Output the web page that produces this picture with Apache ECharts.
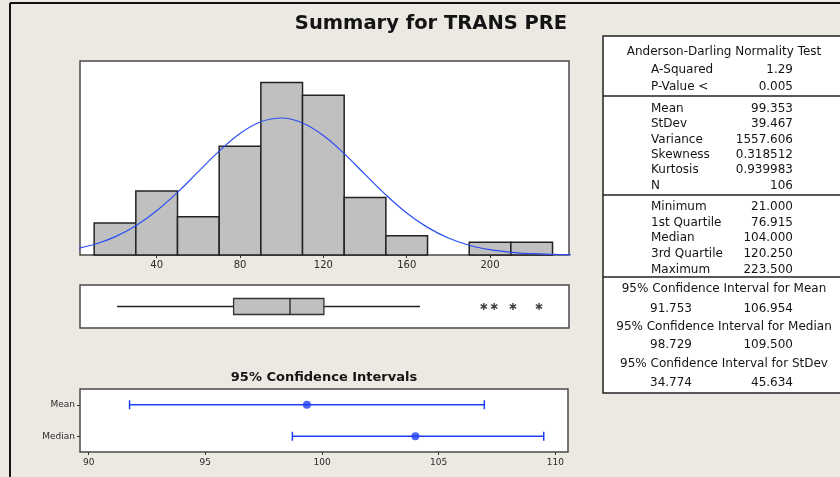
<!DOCTYPE html>
<html lang="en">
<head>
  <meta charset="utf-8" />
  <title>Summary for TRANS PRE</title>
  <script type="text/javascript" src="https://fastly.jsdelivr.net/npm/echarts@6/dist/echarts.min.js"></script>
  <style>
    html, body { margin: 0; padding: 0; background: #ECE9E2; }
    #container { width: 840px; height: 477px; }
  </style>
</head>
<body>
  <div id="container"></div>
  <script type="text/javascript">
    // histogram: bin edges and counts
    var binEdges = [10, 30, 50, 70, 90, 110, 130, 150, 170, 190, 210, 230];
    var binCounts = [5, 10, 6, 17, 27, 25, 9, 3, 0, 2, 2];
    var histTicks = [40, 80, 120, 160, 200];

    // fitted normal curve (in count units)
    var curveX = [0, 10, 20, 30, 40, 50, 60, 70, 80, 90, 100, 110, 120,
                  130, 140, 150, 160, 170, 180, 190, 200, 210, 220, 230, 240];
    var curveY = [0.9, 1.65, 2.84, 4.58, 6.92, 9.8, 13.04, 16.25, 19.01, 20.84, 21.43, 20.66, 18.69,
                  15.85, 12.61, 9.41, 6.58, 4.32, 2.66, 1.53, 0.83, 0.42, 0.2, 0.09, 0.04];

    // boxplot: lower whisker, Q1, median, Q3, upper whisker
    var boxStats = [21.0, 76.915, 104.0, 120.25, 166.4];
    var outliers = [197, 202, 211, 223.5];

    // 95% confidence intervals
    var ciNames = ['Mean', 'Median'];
    var ciLow = [91.753, 98.729];
    var ciHigh = [106.954, 109.5];
    var ciEst = [99.353, 104.0];
    var ciTicks = [90, 95, 100, 105, 110];

    // summary table
    var adLabels = ['A-Squared', 'P-Value <'];
    var adValues = ['1.29', '0.005'];
    var momentLabels = ['Mean', 'StDev', 'Variance', 'Skewness', 'Kurtosis', 'N'];
    var momentValues = ['99.353', '39.467', '1557.606', '0.318512', '0.939983', '106'];
    var quantLabels = ['Minimum', '1st Quartile', 'Median', '3rd Quartile', 'Maximum'];
    var quantValues = ['21.000', '76.915', '104.000', '120.250', '223.500'];
    var ciTableTitles = ['95% Confidence Interval for Mean',
                         '95% Confidence Interval for Median',
                         '95% Confidence Interval for StDev'];
    var ciTableLow = ['91.753', '98.729', '34.774'];
    var ciTableHigh = ['106.954', '109.500', '45.634'];

    var FONT = 'DejaVu Sans';
    var BLUE = '#1F3FF5';
    var INK = '#141414';

    var dom = document.getElementById('container');
    var myChart = echarts.init(dom, null, { renderer: 'canvas' });

    // --- graphic: frame, titles, table ---
    var g = [];
    g.push({ type: 'line', shape: { x1: 10, y1: 3, x2: 840, y2: 3 }, style: { stroke: '#111', lineWidth: 2 } });
    g.push({ type: 'line', shape: { x1: 10, y1: 3, x2: 10, y2: 477 }, style: { stroke: '#111', lineWidth: 2 } });
    g.push({ type: 'text', x: 431, y: 24, style: { text: 'Summary for TRANS PRE', font: 'bold 19.5px ' + FONT,
      fill: INK, textAlign: 'center', textVerticalAlign: 'middle' } });
    g.push({ type: 'text', x: 324, y: 378, style: { text: '95% Confidence Intervals', font: 'bold 13px ' + FONT,
      fill: INK, textAlign: 'center', textVerticalAlign: 'middle' } });

    g.push({ type: 'rect', shape: { x: 603, y: 36, width: 260, height: 357 },
      style: { fill: '#fff', stroke: '#222', lineWidth: 1.5 } });
    [96, 195, 277].forEach(function (y) {
      g.push({ type: 'line', shape: { x1: 603, y1: y, x2: 840, y2: y }, style: { stroke: '#222', lineWidth: 1.5 } });
    });

    function txt(s, x, y, align) {
      g.push({ type: 'text', x: x, y: y, z: 10, style: { text: s, font: '12px ' + FONT, fill: INK,
        textAlign: align, textVerticalAlign: 'middle' } });
    }
    var LX = 651, RX = 793, CX = 724;
    txt('Anderson-Darling Normality Test', CX, 52, 'center');
    var adY = [70, 86.5];
    adLabels.forEach(function (s, i) { txt(s, LX, adY[i], 'left'); txt(adValues[i], RX, adY[i], 'right'); });
    var moY = [109, 124.3, 139.6, 155, 170.3, 185.7];
    momentLabels.forEach(function (s, i) { txt(s, LX, moY[i], 'left'); txt(momentValues[i], RX, moY[i], 'right'); });
    var quY = [206.5, 222.5, 238.2, 254, 269.5];
    quantLabels.forEach(function (s, i) { txt(s, LX, quY[i], 'left'); txt(quantValues[i], RX, quY[i], 'right'); });
    var ctY = [288.5, 326.7, 363.5];
    var cvY = [309, 345, 382.5];
    ciTableTitles.forEach(function (s, i) {
      txt(s, CX, ctY[i], 'center');
      txt(ciTableLow[i], LX - 1, cvY[i], 'left');
      txt(ciTableHigh[i], RX, cvY[i], 'right');
    });

    var gridStyle = { show: true, backgroundColor: '#fff', borderColor: '#4a4a4a', borderWidth: 1.5 };
    var histMin = 3.2, histMax = 237.9;

    option = {
      backgroundColor: '#ECE9E2',
      animation: false,
      graphic: { elements: g },
      grid: [
        Object.assign({ left: 80, top: 61, width: 489, height: 194 }, gridStyle),
        Object.assign({ left: 80, top: 285, width: 489, height: 43 }, gridStyle),
        Object.assign({ left: 80, top: 389, width: 488, height: 63 }, gridStyle)
      ],
      xAxis: [
        {
          gridIndex: 0, type: 'value', min: histMin, max: histMax,
          axisLine: { show: false }, splitLine: { show: false },
          axisTick: { show: true, length: 3, customValues: histTicks, lineStyle: { color: '#333' } },
          axisLabel: { customValues: histTicks, fontSize: 10, color: '#2a2a2a', margin: 5, fontFamily: FONT }
        },
        {
          gridIndex: 1, type: 'value', min: histMin, max: histMax,
          axisLine: { show: false }, splitLine: { show: false },
          axisTick: { show: false }, axisLabel: { show: false }
        },
        {
          gridIndex: 2, type: 'value', min: 89.63, max: 110.54,
          axisLine: { show: false }, splitLine: { show: false },
          axisTick: { show: true, length: 3, customValues: ciTicks, lineStyle: { color: '#333' } },
          axisLabel: { customValues: ciTicks, fontSize: 9, color: '#2a2a2a', margin: 6, fontFamily: FONT }
        }
      ],
      yAxis: [
        { gridIndex: 0, type: 'value', min: 0, max: 30.35, show: false },
        { gridIndex: 1, type: 'value', min: 0, max: 1, show: false },
        {
          gridIndex: 2, type: 'category', data: ciNames, inverse: true,
          axisLine: { show: false },
          axisTick: { show: true, length: 3, alignWithLabel: true, lineStyle: { color: '#333' } },
          axisLabel: { fontSize: 9, color: '#2a2a2a', margin: 5, fontFamily: FONT }
        }
      ],
      series: [
        {
          type: 'custom', xAxisIndex: 0, yAxisIndex: 0,
          encode: { x: [0, 1], y: 2 },
          data: binCounts.map(function (c, i) { return [binEdges[i], binEdges[i + 1], c]; })
            .filter(function (d) { return d[2] > 0; }),
          renderItem: function (params, api) {
            var p0 = api.coord([api.value(0), 0]);
            var p1 = api.coord([api.value(1), api.value(2)]);
            return {
              type: 'rect',
              shape: { x: p0[0], y: p1[1], width: p1[0] - p0[0], height: p0[1] - p1[1] },
              style: { fill: '#C0C0C0', stroke: '#222', lineWidth: 1.5 }
            };
          }
        },
        {
          type: 'line', xAxisIndex: 0, yAxisIndex: 0,
          data: curveX.map(function (x, i) { return [x, curveY[i]]; }),
          smooth: 0.4, showSymbol: false, clip: true, z: 5,
          lineStyle: { color: '#2A4DF5', width: 1.2 }
        },
        {
          type: 'custom', xAxisIndex: 1, yAxisIndex: 1,
          data: [boxStats.concat([0.5])],
          renderItem: function (params, api) {
            var y = api.value(5);
            var pMin = api.coord([api.value(0), y]);
            var pQ1 = api.coord([api.value(1), y]);
            var pMed = api.coord([api.value(2), y]);
            var pQ3 = api.coord([api.value(3), y]);
            var pMax = api.coord([api.value(4), y]);
            var h = 16;
            var ls = { stroke: '#222', lineWidth: 1.3 };
            return {
              type: 'group',
              children: [
                { type: 'line', shape: { x1: pMin[0], y1: pMin[1], x2: pQ1[0], y2: pQ1[1] }, style: ls },
                { type: 'line', shape: { x1: pQ3[0], y1: pQ3[1], x2: pMax[0], y2: pMax[1] }, style: ls },
                { type: 'rect', shape: { x: pQ1[0], y: pQ1[1] - h / 2, width: pQ3[0] - pQ1[0], height: h },
                  style: { fill: '#C0C0C0', stroke: '#333', lineWidth: 1.3 } },
                { type: 'line', shape: { x1: pMed[0], y1: pMed[1] - h / 2, x2: pMed[0], y2: pMed[1] + h / 2 }, style: ls }
              ]
            };
          }
        },
        {
          type: 'scatter', xAxisIndex: 1, yAxisIndex: 1,
          data: outliers.map(function (v) { return [v, 0.5]; }),
          symbol: 'path://M4,0 L6,0 L6,3.3 L9,1.6 L10,3.3 L7,5 L10,6.7 L9,8.4 L6,6.7 L6,10 L4,10 L4,6.7 L1,8.4 L0,6.7 L3,5 L0,3.3 L1,1.6 L4,3.3 Z',
          symbolSize: 7,
          itemStyle: { color: '#111' }
        },
        {
          type: 'custom', xAxisIndex: 2, yAxisIndex: 2,
          data: ciNames.map(function (n, i) { return [ciLow[i], ciHigh[i], i]; }),
          renderItem: function (params, api) {
            var a = api.coord([api.value(0), api.value(2)]);
            var b = api.coord([api.value(1), api.value(2)]);
            var cap = 4.5;
            var ls = { stroke: BLUE, lineWidth: 1.5 };
            return {
              type: 'group',
              children: [
                { type: 'line', shape: { x1: a[0], y1: a[1], x2: b[0], y2: b[1] }, style: ls },
                { type: 'line', shape: { x1: a[0], y1: a[1] - cap, x2: a[0], y2: a[1] + cap }, style: ls },
                { type: 'line', shape: { x1: b[0], y1: b[1] - cap, x2: b[0], y2: b[1] + cap }, style: ls }
              ]
            };
          }
        },
        {
          type: 'scatter', xAxisIndex: 2, yAxisIndex: 2,
          data: ciNames.map(function (n, i) { return [ciEst[i], i]; }),
          symbol: 'circle', symbolSize: 8,
          itemStyle: { color: BLUE }
        }
      ]
    };

    myChart.setOption(option);
    window.addEventListener('resize', myChart.resize);
  </script>
</body>
</html>
